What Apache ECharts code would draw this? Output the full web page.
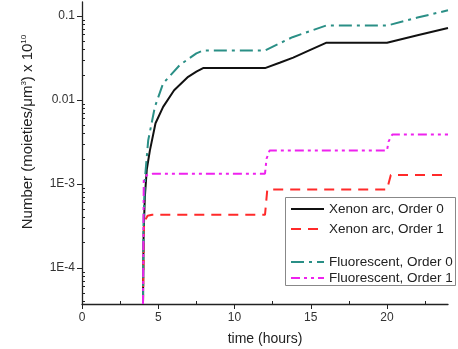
<!DOCTYPE html>
<html>
<head>
<meta charset="utf-8">
<script src="https://cdn.jsdelivr.net/npm/echarts@6/dist/echarts.min.js"></script>
<style>
  html, body { margin: 0; padding: 0; background: #fff; }
  #chart { width: 458px; height: 349px; }
</style>
</head>
<body>
<div id="chart"></div>
<script>
// axis range
const xMin = 0, xMax = 24;
const yMin = 3.73e-5, yMax = 0.147;

const xTickValues = [0, 5, 10, 15, 20];
const xMinorValues = [2.5, 7.5, 12.5, 17.5, 22.5];
const yTickValues = [1e-4, 1e-3, 0.01, 0.1];
const yTickLabels = ["1E-4", "1E-3", "0.01", "0.1"];

// minor log ticks 2..9 in every decade
const yMinorValues = [];
[1e-5, 1e-4, 1e-3, 0.01, 0.1].forEach(d => {
  for (let k = 2; k <= 9; k++) {
    const v = d * k;
    if (v > yMin && v < yMax) yMinorValues.push(v);
  }
});

const seriesNames = ["Xenon arc, Order 0", "Xenon arc, Order 1", "Fluorescent, Order 0", "Fluorescent, Order 1"];

// [time (h), number]
const xenon0 = [[4, yMin], [4.04, 2.5e-4], [4.12, 7e-4], [4.25, 1.5e-3], [4.45, 2.5e-3], [4.82, 5.3e-3],
  [5.32, 8.3e-3], [6.04, 0.0131], [6.96, 0.0189], [7.5, 0.0218], [7.94, 0.024], [12, 0.024],
  [13, 0.028], [13.85, 0.032], [14.9, 0.039], [16, 0.048], [20, 0.048], [22, 0.059], [24, 0.072]];
const xenon1 = [[4, yMin], [4.07, 3.5e-4], [4.3, 4.2e-4], [4.6, 4.3e-4], [12, 4.3e-4],
  [12.15, 8.6e-4], [20, 8.6e-4], [20.25, 1.28e-3], [24, 1.28e-3]];
const fluor0 = [[4, yMin], [4.04, 4e-4], [4.15, 1.3e-3], [4.34, 3.3e-3], [4.78, 8.3e-3], [5.32, 0.0158],
  [6.41, 0.0261], [7.5, 0.036], [7.94, 0.039], [12, 0.039], [13.8, 0.056],
  [16, 0.077], [20, 0.077], [22, 0.096], [24, 0.117]];
const fluor1 = [[4, yMin], [4.05, 1.1e-3], [4.25, 1.28e-3], [4.65, 1.33e-3], [12, 1.33e-3],
  [12.1, 2.0e-3], [12.3, 2.5e-3], [20, 2.5e-3], [20.1, 3.2e-3], [20.35, 3.9e-3], [24, 3.9e-3]];

const font = "'Liberation Sans', Arial, sans-serif";
const axisColor = "#222";

function lineSeries(name, data, color, dash) {
  return {
    name: name,
    type: "line",
    data: data,
    symbol: "none",
    clip: true,
    lineStyle: { color: color, width: 2, type: dash },
    itemStyle: { color: color },
  };
}

function legendBox(names, top, gap) {
  return {
    data: names,
    orient: "vertical",
    left: 290,
    top: top,
    padding: 0,
    itemWidth: 33,
    itemHeight: 12,
    itemGap: gap,
    selectedMode: false,
    itemStyle: { color: "rgba(0,0,0,0)", borderWidth: 0 },
    textStyle: { fontSize: 13.5, color: "#222", fontFamily: font },
  };
}

const chart = echarts.init(document.getElementById("chart"));

const option = {
  animation: false,
  textStyle: { fontFamily: font },
  grid: { left: 82, right: 10, top: 2, bottom: 45, outerBoundsMode: "none" },
  xAxis: [
    {
      type: "value",
      min: xMin,
      max: xMax,
      name: "time (hours)",
      nameLocation: "middle",
      nameGap: 28,
      nameTextStyle: { fontSize: 14, color: "#222", fontFamily: font },
      axisLine: { lineStyle: { color: axisColor, width: 1.3 } },
      axisTick: { customValues: xTickValues, length: 5, lineStyle: { color: axisColor } },
      axisLabel: { customValues: xTickValues, fontSize: 12, color: "#333", margin: 8 },
      splitLine: { show: false },
    },
    {
      type: "value",
      min: xMin,
      max: xMax,
      position: "bottom",
      axisLine: { show: false },
      axisTick: { customValues: xMinorValues, inside: true, length: 3, lineStyle: { color: axisColor } },
      axisLabel: { show: false },
      splitLine: { show: false },
    },
  ],
  yAxis: [
    {
      type: "log",
      logBase: 10,
      min: yMin,
      max: yMax,
      position: "left",
      axisLine: { show: true, lineStyle: { color: axisColor, width: 1.3 } },
      axisTick: { show: true, customValues: yTickValues, length: 5, lineStyle: { color: axisColor } },
      axisLabel: {
        customValues: yTickValues,
        fontSize: 12,
        color: "#333",
        margin: 7,
        formatter: (v) => {
          let best = 0;
          yTickValues.forEach((t, i) => {
            if (Math.abs(Math.log10(t) - Math.log10(v)) < Math.abs(Math.log10(yTickValues[best]) - Math.log10(v))) best = i;
          });
          return yTickLabels[best];
        },
      },
      splitLine: { show: false },
    },
    {
      type: "log",
      logBase: 10,
      min: yMin,
      max: yMax,
      position: "left",
      axisLine: { show: false },
      axisTick: { show: true, customValues: yMinorValues, inside: true, length: 3, lineStyle: { color: axisColor } },
      axisLabel: { show: false },
      splitLine: { show: false },
    },
  ],
  legend: [
    legendBox(seriesNames.slice(0, 2), 202, 6),
    legendBox(seriesNames.slice(2), 255, 2),
  ],
  graphic: [
    {
      type: "rect",
      left: 285,
      top: 197,
      z: 3,
      shape: { width: 170, height: 88 },
      style: { fill: "#fff", stroke: "#888", lineWidth: 1 },
    },
    {
      type: "text",
      x: 28,
      y: 132,
      rotation: Math.PI / 2,
      style: {
        text: "Number (moieties/μm{s|3}) x 10{s|10}",
        font: "15px " + font,
        fill: "#222",
        align: "center",
        verticalAlign: "middle",
        rich: { s: { fontSize: 8, verticalAlign: "top", lineHeight: 17, fill: "#222" } },
      },
    },
  ],
  series: [
    lineSeries(seriesNames[0], xenon0, "#111111", "solid"),
    lineSeries(seriesNames[1], xenon1, "#ff2a2a", [10, 7]),
    lineSeries(seriesNames[2], fluor0, "#2a8f86", [13, 5, 3, 5]),
    lineSeries(seriesNames[3], fluor1, "#ee22ee", [9, 4, 3, 4, 3, 4]),
  ],
};

chart.setOption(option);
</script>
</body>
</html>
